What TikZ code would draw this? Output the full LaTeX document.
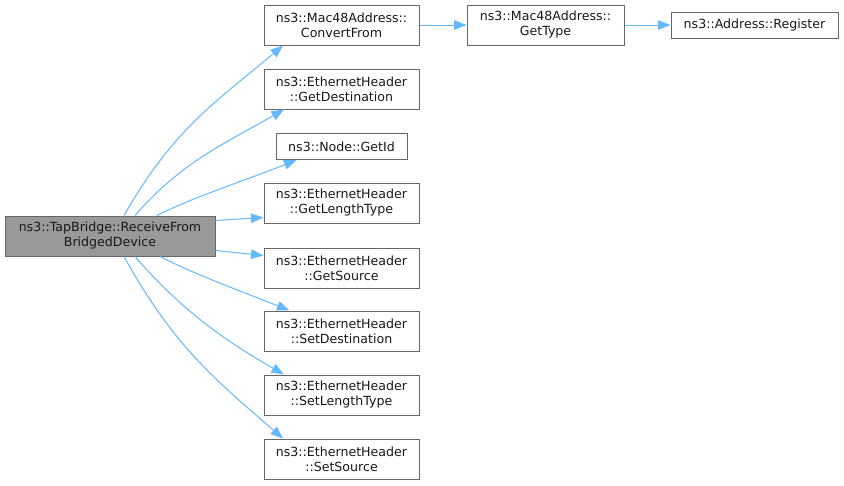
\documentclass[tikz,border=0pt]{standalone}
\usepackage{fontspec}
\setmainfont{DejaVu Sans}
\usetikzlibrary{arrows.meta}
\definecolor{edgeblue}{HTML}{63B8FF}
\definecolor{boxborder}{HTML}{666666}
\definecolor{mainfill}{HTML}{999999}
\begin{document}
\begin{tikzpicture}[x=1pt,y=1pt,
  fn/.style={draw=boxborder,line width=1pt,fill=white,inner sep=0pt,align=center,
    font=\fontsize{12.6}{15}\selectfont,text=black!90,minimum height=40pt},
  one/.style={minimum height=26pt},
  cur/.style={fill=mainfill},
  edge/.style={draw=edgeblue,line width=1pt,-{Triangle[length=12.5pt,width=9.5pt]}}]
\useasboundingbox (0,0) rectangle (844,-485);
\node[fn,cur,minimum width=210pt] (main) at (110,-236) {ns3::TapBridge::ReceiveFrom\\BridgedDevice};
\node[fn,minimum width=155pt] (cf) at (341.5,-25) {ns3::Mac48Address::\\ConvertFrom};
\node[fn,minimum width=155pt] (gd) at (341.5,-89) {ns3::EthernetHeader\\::GetDestination};
\node[fn,one,minimum width=131pt] (gid) at (341.5,-146.5) {ns3::Node::GetId};
\node[fn,minimum width=155pt] (glt) at (341.5,-203) {ns3::EthernetHeader\\::GetLengthType};
\node[fn,minimum width=155pt] (gs) at (341.5,-268) {ns3::EthernetHeader\\::GetSource};
\node[fn,minimum width=155pt] (sd) at (341.5,-331) {ns3::EthernetHeader\\::SetDestination};
\node[fn,minimum width=155pt] (slt) at (341.5,-395) {ns3::EthernetHeader\\::SetLengthType};
\node[fn,minimum width=155pt] (ss) at (341.5,-459) {ns3::EthernetHeader\\::SetSource};
\node[fn,minimum width=157pt] (gt) at (545.5,-25) {ns3::Mac48Address::\\GetType};
\node[fn,one,minimum width=167pt] (reg) at (754.5,-25) {ns3::Address::Register};

\draw[edge] ([xshift=14pt]main.north) .. controls +(50,87) and +(-69,-58) .. ([xshift=-58.5pt]cf.south);
\draw[edge] ([xshift=25pt]main.north) .. controls +(46,53) and +(-61,-35) .. ([xshift=-57.5pt]gd.south);
\draw[edge] ([xshift=47pt]main.north) .. controls +(35,18) and +(-50,-20) .. ([xshift=-45pt]gid.south);
\draw[edge] ([yshift=-5pt]main.north east) -- ([yshift=6pt]glt.south west);
\draw[edge] ([yshift=6pt]main.south east) -- ([yshift=-8pt]gs.north west);
\draw[edge] ([xshift=50pt]main.south) .. controls +(35,-18) and +(-50,20) .. ([xshift=-52pt]sd.north);
\draw[edge] ([xshift=25pt]main.south) .. controls +(46,-53) and +(-61,35) .. ([xshift=-57.5pt]slt.north);
\draw[edge] ([xshift=14pt]main.south) .. controls +(50,-90) and +(-69,60) .. ([xshift=-58.5pt]ss.north);
\draw[edge] (cf) -- (gt);
\draw[edge] (gt) -- (reg);
\end{tikzpicture}
\end{document}
